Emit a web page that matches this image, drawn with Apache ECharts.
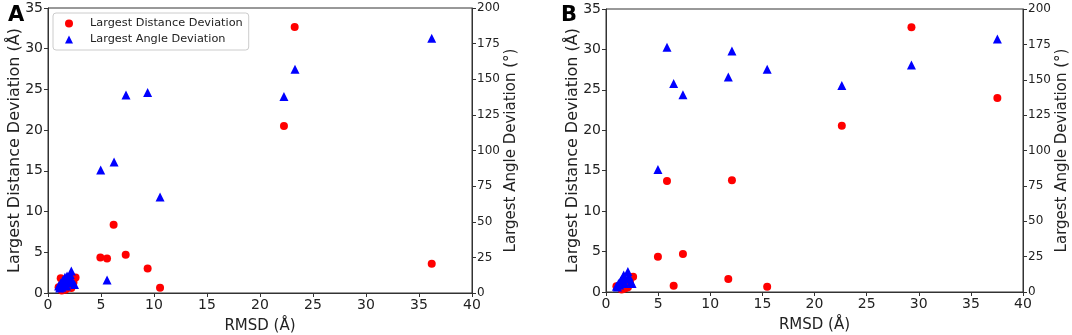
<!DOCTYPE html>
<html>
<head>
<meta charset="utf-8">
<script src="https://cdn.jsdelivr.net/npm/echarts@6/dist/echarts.min.js"></script>
<style>
  html, body { margin: 0; padding: 0; background: #fff; }
  #chart { width: 1072px; height: 335px; }
</style>
</head>
<body>
<div id="chart"></div>
<script>
// panel A - largest distance deviation (Å) vs RMSD
var rmsdDistA = [1.0, 1.2, 1.4, 1.3, 1.6, 1.8, 2.0, 2.2, 2.4, 2.6, 1.7, 1.5, 2.1, 4.94, 5.57, 6.19, 7.33, 9.40, 10.57, 22.26, 23.27, 36.2];
var distA     = [0.7, 1.8, 1.1, 0.3, 0.4, 1.5, 0.7, 0.6, 1.3, 1.9, 0.5, 0.9, 1.6, 4.37, 4.25, 8.37, 4.7, 3.02, 0.65, 20.5, 32.67, 3.6];
// panel A - largest angle deviation (°) vs RMSD
var rmsdAngA = [1.0, 1.2, 1.3, 1.4, 1.5, 1.6, 1.7, 1.8, 1.9, 2.0, 2.1, 2.2, 2.3, 2.5, 1.1, 1.75, 4.97, 5.57, 6.23, 7.36, 9.40, 10.57, 22.26, 23.3, 36.2];
var angleA   = [5, 7, 4, 9, 6, 11, 8, 12, 7, 10, 13, 15.5, 8, 6, 3.5, 5, 86.3, 9.1, 91.9, 139, 140.7, 67.4, 137.9, 157, 178.7];

// panel B
var rmsdDistB = [1.0, 1.5, 1.7, 1.8, 1.9, 2.1, 2.3, 2.6, 1.4, 4.98, 5.85, 6.49, 7.38, 11.73, 12.08, 15.46, 22.62, 29.3, 37.54];
var distB     = [0.7, 0.3, 0.4, 0.8, 0.5, 0.6, 1.2, 1.9, 0.5, 4.37, 13.74, 0.78, 4.7, 1.61, 13.83, 0.66, 20.55, 32.73, 23.98];
var rmsdAngB = [1.0, 1.2, 1.3, 1.4, 1.6, 1.7, 1.9, 2.1, 2.2, 2.4, 2.5, 1.1, 1.8, 4.98, 5.85, 6.49, 7.38, 11.73, 12.08, 15.46, 22.62, 29.3, 37.54];
var angleB   = [4, 6, 5, 8, 10, 12, 9, 14.5, 11, 7, 6, 3.5, 6, 86.6, 172.9, 147.4, 139.4, 151.9, 170.3, 157.5, 146, 160.4, 178.8];

var distName = 'Largest Distance Deviation';
var angleName = 'Largest Angle Deviation';

function pairs(xs, ys) {
  return xs.map(function (x, i) { return [x, ys[i]]; });
}

var font = 'DejaVu Sans';
var txt = '#222';

function xAx(gi) {
  return {
    gridIndex: gi, type: 'value', min: 0, max: 40, interval: 5,
    name: 'RMSD (Å)', nameLocation: 'middle', nameGap: 26, nameMoveOverlap: false,
    nameTextStyle: { fontFamily: font, fontSize: 15, color: txt, verticalAlign: 'top' },
    axisLine: { lineStyle: { color: '#333' } },
    axisTick: { length: 4, lineStyle: { color: '#333' } },
    axisLabel: { fontFamily: font, fontSize: 14, color: txt, margin: 5 },
    splitLine: { show: false }
  };
}
function yLeft(gi) {
  return {
    gridIndex: gi, type: 'value', min: 0, max: 35, interval: 5,
    name: 'Largest Distance Deviation (Å)', nameLocation: 'middle', nameGap: 25, nameMoveOverlap: false,
    nameTextStyle: { fontFamily: font, fontSize: 16, color: txt },
    axisLine: { show: true, lineStyle: { color: '#333' } },
    axisTick: { show: true, length: 4, lineStyle: { color: '#333' } },
    axisLabel: { fontFamily: font, fontSize: 14, color: txt, margin: 5 },
    splitLine: { show: false }
  };
}
function yRight(gi) {
  return {
    gridIndex: gi, type: 'value', position: 'right', min: 0, max: 200, interval: 25,
    name: 'Largest Angle Deviation (°)', nameLocation: 'middle', nameGap: 30,
    nameTextStyle: { fontFamily: font, fontSize: 15, color: txt },
    axisLine: { show: true, lineStyle: { color: '#333' } },
    axisTick: { show: true, length: 4, lineStyle: { color: '#333' } },
    axisLabel: { fontFamily: font, fontSize: 12, color: txt, margin: 5 },
    splitLine: { show: false }
  };
}

var option = {
  animation: false,
  backgroundColor: '#fff',
  textStyle: { fontFamily: font },
  title: [
    { text: 'A', left: 3, top: 0, textStyle: { fontFamily: font, fontSize: 21, fontWeight: 'bold', color: '#000' } },
    { text: 'B', left: 556, top: 0, textStyle: { fontFamily: font, fontSize: 21, fontWeight: 'bold', color: '#000' } }
  ],
  legend: {
    left: 53, top: 13, orient: 'vertical',
    data: [{ name: distName, icon: 'circle' }, { name: angleName, icon: 'triangle' }],
    itemWidth: 8, itemHeight: 8, itemGap: 5,
    padding: [5, 6, 5, 12],
    borderColor: '#ccc', borderWidth: 1, borderRadius: 3,
    textStyle: { fontFamily: font, fontSize: 11.3, color: txt, padding: [0, 0, 0, 12] },
    selectedMode: false
  },
  grid: [
    { left: 48, right: 600, top: 8, bottom: 42, show: true, borderColor: '#333', borderWidth: 1,
      containLabel: false, outerBoundsMode: 'none' },
    { left: 606, right: 49, top: 9, bottom: 43, show: true, borderColor: '#333', borderWidth: 1,
      containLabel: false, outerBoundsMode: 'none' }
  ],
  xAxis: [xAx(0), xAx(1)],
  yAxis: [yLeft(0), yRight(0), yLeft(1), yRight(1)],
  series: [
    { name: distName, type: 'scatter', xAxisIndex: 0, yAxisIndex: 0, symbol: 'circle', symbolSize: 8,
      itemStyle: { color: '#ff0000', opacity: 1 }, data: pairs(rmsdDistA, distA) },
    { name: angleName, type: 'scatter', xAxisIndex: 0, yAxisIndex: 1, symbol: 'triangle', symbolSize: 9,
      itemStyle: { color: '#0000ff', opacity: 1 }, data: pairs(rmsdAngA, angleA) },
    { name: distName, type: 'scatter', xAxisIndex: 1, yAxisIndex: 2, symbol: 'circle', symbolSize: 8,
      itemStyle: { color: '#ff0000', opacity: 1 }, data: pairs(rmsdDistB, distB) },
    { name: angleName, type: 'scatter', xAxisIndex: 1, yAxisIndex: 3, symbol: 'triangle', symbolSize: 9,
      itemStyle: { color: '#0000ff', opacity: 1 }, data: pairs(rmsdAngB, angleB) }
  ]
};

var chart = echarts.init(document.getElementById('chart'), null, { renderer: 'canvas' });
chart.setOption(option);
</script>
</body>
</html>
